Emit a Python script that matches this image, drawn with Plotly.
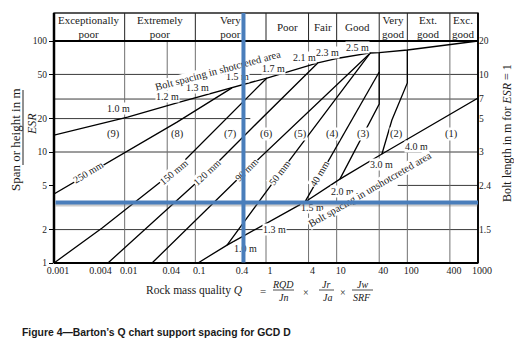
import numpy as np
import plotly.graph_objects as go

# ---------------- data ----------------
class_names = ["Exceptionally<br>poor", "Extremely<br>poor", "Very<br>poor", "Poor", "Fair", "Good",
               "Very<br>good", "Ext.<br>good", "Exc.<br>good"]
class_edges = [0.001, 0.01, 0.1, 1, 4, 10, 40, 100, 400, 1000]

q_ticks = [0.001, 0.004, 0.01, 0.04, 0.1, 0.4, 1, 4, 10, 40, 100, 400, 1000]
q_tick_text = ["0.001", "0.004", "0.01", "0.04", "0.1", "0.4", "1", "4", "10", "40", "100", "400", "1000"]
span_ticks = [1, 2, 5, 10, 20, 50, 100]
bolt_span = [100, 50, 30, 20, 10, 5, 2]
bolt_text = ["20", "10", "7", "5", "3", "2.4", "1.5"]

# bolt spacing in shotcreted area (upper boundary)
shot_q = [0.001, 0.011, 0.06, 0.33, 1.03, 5.4, 11, 30, 40, 100, 1000]
shot_s = [14.2, 20.6, 28.2, 37.8, 46.4, 63.4, 70.3, 78, 78.5, 83, 100]
# bolt spacing in unshotcreted area
unshot_q = [0.109, 0.281, 3.56, 11.1, 43.7, 1000]
unshot_s = [1, 1.45, 3.55, 5.7, 9.6, 30.6]
# shotcrete thickness boundaries
mm250_q = [0.001, 0.055, 0.33]
mm250_s = [4.19, 18.6, 37.8]
mm150_q = [0.001, 0.0048, 0.0484, 0.0898, 1.03]
mm150_s = [1, 2.07, 6.6, 9.8, 46.4]
mm120_q = [0.0058, 0.1465, 0.594, 5.4]
mm120_s = [1, 6.47, 15.8, 63.4]
mm90_q = [0.0244, 0.539, 30]
mm90_s = [1, 6.89, 78]
mm50_q = [0.281, 1.58, 30]
mm50_s = [1.45, 6.47, 78]
mm40_q = [3.56, 40]
mm40_s = [3.55, 52.6]
# category boundaries (3)/(2) and (2)/(1)
cat32_q = [40, 40, 11.1]
cat32_s = [78.5, 27, 5.7]
cat21_q = [100, 100, 60.5, 43.7]
cat21_s = [83, 41.9, 19.4, 9.6]

shot_lbl = ["1.0 m", "1.2 m", "1.3 m", "1.5 m", "1.7 m", "2.1 m", "2.3 m", "2.5 m"]
shot_lbl_q = [0.0083, 0.041, 0.109, 0.40, 1.26, 3.56, 7.5, 20]
shot_lbl_s = [24.9, 31.3, 37.8, 47.4, 56, 70.3, 79.6, 86.5]

unshot_lbl = ["1.0 m", "1.3 m", "1.5 m", "2.0 m", "3.0 m", "4.0 m"]
unshot_lbl_q = [0.505, 1.34, 4.62, 11.9, 43.7, 137]
unshot_lbl_s = [1.36, 2.02, 3.19, 4.37, 7.64, 11.1]

thick_lbl = ["250 mm", "150 mm", "120 mm", "90 mm", "50 mm", "40 mm"]
thick_lbl_q = [0.00304, 0.0484, 0.1465, 0.539, 1.58, 5.8]
thick_lbl_s = [6.47, 6.6, 6.47, 6.89, 6.47, 6.34]

region_lbl = ["(9)", "(8)", "(7)", "(6)", "(5)", "(4)", "(3)", "(2)", "(1)"]
region_lbl_q = [0.00685, 0.0551, 0.31, 1.03, 3.03, 8.87, 23.6, 71.3, 427]
region_lbl_s = [14.5] * 9

shot_title_q, shot_title_s = 0.209, 54.8
unshot_title_q, unshot_title_s = 29.6, 4.55

design_q = 0.48
design_s = 3.5

grid_span = [50, 30, 20, 10, 5, 2]
grid_span_from = [0.001, 0.001, 0.001, 0.001, 73, 0.001]
grid_span_to = [1000, 1000, 0.6, 1000, 1000, 1000]
grid_q = [0.01, 0.04, 0.1, 1, 4, 10, 40, 100, 400]
grid_q_top = [100, 100, 100, 46.4, 100, 100, 100, 100, 100]

# ---------------- figure ----------------
PAGE_PAD = 8                      # default body margin of the html page
W, H = 522 - PAGE_PAD, 343 - PAGE_PAD
PL, PT, PR, PB = 54, 13, 478, 263  # plot area edges in window pixels
ML, MT = PL - PAGE_PAD, PT - PAGE_PAD
MR, MB = W + PAGE_PAD - PR, H + PAGE_PAD - PB
PW, PH = PR - PL, PB - PT
span_top = 10 ** (2 + 28 / 111)          # header band above span = 100
LY = np.log10(span_top)
L = np.log10
SERIF = "Liberation Serif"
BLUE = "#4a7ebb"


def px(x):
    return (x - PL) / PW


def py(y):
    return (PB - y) / PH


fig = go.Figure()
for q, s in [(shot_q, shot_s), (unshot_q, unshot_s), (mm250_q, mm250_s), (mm150_q, mm150_s),
             (mm120_q, mm120_s), (mm90_q, mm90_s), (mm50_q, mm50_s), (mm40_q, mm40_s),
             (cat32_q, cat32_s), (cat21_q, cat21_s)]:
    fig.add_trace(go.Scatter(x=q, y=s, mode="lines", line=dict(color="black", width=1.3),
                             hoverinfo="skip", showlegend=False))
# invisible trace to carry the right-hand axis
fig.add_trace(go.Scatter(x=[1], y=[1], yaxis="y2", mode="markers", marker=dict(opacity=0),
                         hoverinfo="skip", showlegend=False))

shapes = []
for s, a, b in zip(grid_span, grid_span_from, grid_span_to):
    shapes.append(dict(type="line", xref="x", yref="y", x0=a, x1=b, y0=s, y1=s,
                       line=dict(color="#3a3a3a", width=1), layer="below"))
for q, top in zip(grid_q, grid_q_top):
    shapes.append(dict(type="line", xref="x", yref="y", x0=q, x1=q, y0=1, y1=top,
                       line=dict(color="#707070", width=1), layer="below"))
for e in class_edges[1:-1]:
    shapes.append(dict(type="line", xref="x", yref="y", x0=e, x1=e, y0=100, y1=span_top,
                       line=dict(color="#222", width=1)))
shapes.append(dict(type="line", xref="x", yref="y", x0=0.001, x1=1000, y0=100, y1=100,
                   line=dict(color="black", width=2)))
shapes.append(dict(type="rect", xref="paper", yref="paper", x0=0, x1=1, y0=0, y1=1,
                   line=dict(color="#222", width=1.3)))
shapes.append(dict(type="line", xref="paper", yref="paper", x0=0, x1=0, y0=0, y1=1,
                   line=dict(color="black", width=2.5)))
shapes.append(dict(type="line", xref="paper", yref="paper", x0=0, x1=1, y0=0, y1=0,
                   line=dict(color="black", width=2.2)))
shapes.append(dict(type="line", xref="paper", yref="paper", x0=1, x1=1, y0=0, y1=1,
                   line=dict(color="black", width=1.8)))
# fraction bars
shapes.append(dict(type="line", xref="paper", yref="paper", x0=px(23), x1=px(23), y0=py(90), y1=py(165),
                   line=dict(color="#222", width=1)))
for a, b in [(273, 294), (319, 334), (352, 373)]:
    shapes.append(dict(type="line", xref="paper", yref="paper", x0=px(a), x1=px(b), y0=py(290), y1=py(290),
                       line=dict(color="#222", width=0.8)))

ann = []
for i, name in enumerate(class_names):
    xc = np.sqrt(class_edges[i] * class_edges[i + 1])
    ann.append(dict(x=L(xc), y=(2 + LY) / 2, xref="x", yref="y", text=name, showarrow=False,
                    font=dict(family=SERIF, size=11, color="#1a1a1a"), align="center"))


def lbl(text, q, s, angle=0, size=10, bg="white"):
    return dict(x=L(q), y=L(s), xref="x", yref="y", text=text, showarrow=False, textangle=angle,
                font=dict(family=SERIF, size=size, color="#1a1a1a"), bgcolor=bg, borderpad=0)


for t, q, s in zip(shot_lbl, shot_lbl_q, shot_lbl_s):
    ann.append(lbl(t, q, s))
for t, q, s in zip(unshot_lbl, unshot_lbl_q, unshot_lbl_s):
    ann.append(lbl(t, q, s))
for t, q, s, a in zip(thick_lbl, thick_lbl_q, thick_lbl_s, [-31, -40, -43, -45, -53, -60]):
    ann.append(lbl(t, q, s, a))
for t, q, s in zip(region_lbl, region_lbl_q, region_lbl_s):
    ann.append(lbl(t, q, s, 0, 10.5))
ann.append(lbl("Bolt spacing in shotcreted area", shot_title_q, shot_title_s, -15, 10.5))
ann.append(lbl("Bolt spacing in unshotcreted area", unshot_title_q, unshot_title_s, -30, 10.5))


def pa(text, x, y, size=11, xanchor="center", angle=0, family=SERIF):
    return dict(x=px(x), y=py(y), xref="paper", yref="paper", text=text, showarrow=False,
                xanchor=xanchor, yanchor="middle", textangle=angle,
                font=dict(family=family, size=size, color="#1a1a1a"))


ann += [
    pa("Rock mass quality <i>Q</i>", 245, 290, 11.5, "right"),
    pa("=", 263, 291, 11),
    pa("<i>RQD</i>", 283, 284, 10), pa("<i>Jn</i>", 283, 297, 10),
    pa("×", 306, 292, 10),
    pa("<i>Jr</i>", 326, 284, 10), pa("<i>Ja</i>", 327, 297, 10),
    pa("×", 343, 292, 10),
    pa("<i>Jw</i>", 362, 284, 10), pa("<i>SRF</i>", 362, 297, 10),
    pa("Span or height in m", 15, 140, 13, angle=-90),
    pa("<i>ESR</i>", 32, 124, 12, angle=-90),
    pa("Bolt length in m for <i>ESR</i> = 1", 507, 133, 12, angle=-90),
    pa("<b>Figure 4\u2014Barton\u2019s Q chart support spacing for GCD D</b>", 20, 332, 10.4, "left",
       family="Liberation Sans"),
]
# design lines (drawn last so they sit above the labels)
ann.append(dict(x=3, y=L(design_s) - 0.022, ax=-3, ay=L(design_s) - 0.022, xref="x", yref="y",
                axref="x", ayref="y", text="", showarrow=True, arrowhead=0, arrowwidth=3,
                arrowcolor="rgba(110,110,110,0.35)", standoff=0, startstandoff=0))
ann.append(dict(x=3, y=L(design_s), ax=-3, ay=L(design_s), xref="x", yref="y",
                axref="x", ayref="y", text="", showarrow=True, arrowhead=0, arrowwidth=4,
                arrowcolor=BLUE, standoff=0, startstandoff=0))
ann.append(dict(x=L(design_q), y=LY, ax=L(design_q), ay=-0.01, xref="x", yref="y",
                axref="x", ayref="y", text="", showarrow=True, arrowhead=0, arrowwidth=4,
                arrowcolor=BLUE, standoff=0, startstandoff=0))

fig.update_layout(
    width=W, height=H, margin=dict(l=ML, r=MR, t=MT, b=MB),
    paper_bgcolor="white", plot_bgcolor="white", showlegend=False,
    font=dict(family=SERIF, color="#1a1a1a"),
    xaxis=dict(type="log", range=[-3, 3], tickvals=q_ticks, ticktext=q_tick_text, showgrid=False,
               zeroline=False, showline=False, ticks="", automargin=False, ticklabelshift=4,
               tickfont=dict(family=SERIF, size=10, color="#222")),
    yaxis=dict(type="log", range=[0, LY], tickvals=span_ticks, ticktext=[str(v) for v in span_ticks],
               showgrid=False, zeroline=False, showline=False, ticks="outside", ticklen=4,
               tickcolor="black", automargin=False, tickfont=dict(family=SERIF, size=9.5, color="#222")),
    yaxis2=dict(type="log", range=[0, LY], overlaying="y", side="right", tickvals=bolt_span,
                ticktext=bolt_text, showgrid=False, zeroline=False, showline=False, ticks="",
                automargin=False, tickfont=dict(family=SERIF, size=9.5, color="#222")),
    shapes=shapes, annotations=ann,
)
fig.write_html("out.html")
